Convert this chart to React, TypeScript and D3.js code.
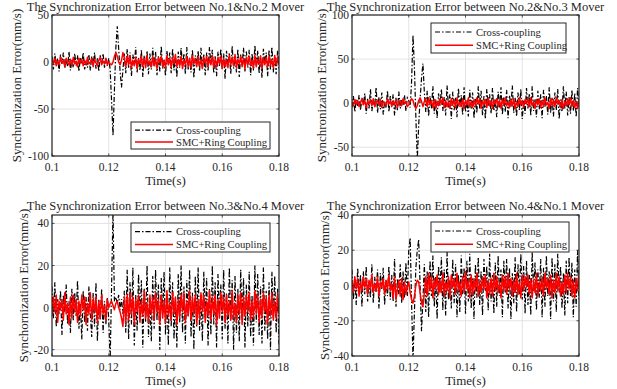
import React from "react";
import * as d3 from "d3";

const xTicks = [0.1, 0.12, 0.14, 0.16, 0.18];
const T0 = 0.1;
const DT = 0.0005;

// Panel 1: No.1 & No.2
const c12a = [6,-8,9,-3,4,-10,8,-2,10,-7,3,-5,11,-9,2,-6,9,-4,7,-10,5,-2,10,-8,1,-6,8,-9,6,-3,10,-7,4,-10,7,-2,9,-6,3,-4];
const c12b = [4,-8,-42,-78,-30,15,38,14,-10,-27,-8,9];
const c12c = [-12,14,-6,10,-15,8,-3,16,-11,5,-9,13,-16,7,-4,12,-13,9,-8,15,-5,11,-14,6,-10,17,-7,3,-15,12,-2,10,-12,14,-9,5,-16,11,-6,15,-4,9,-13,16,-8,4,-11,13,-17,7,-3,12,-10,15,-6,8,-14,10,-9,16,-2,13,-12,6,-15,11,-5,14,-8,9,-18,12,-4,10,-13,17,-7,5,-11,14,-16,8,-3,15,-10,11,-6,13,-14,9,-9,18,-5,12,-12,7,-17,14,-2,10,-15,13,-8,16,-11,6,-13,12,-7];
const r12a = [3,-2,4,-4,1,-3,5,-1,2,-5,4,0,-3,3,-4,5,-2,1,-5,4,-1,3,-4,2,-3,5,-2,0,4,-5,3,-1,-4,2,5,-3,1,-2,4,-3];
const r12b = [0,-2,-3,0,6,10,6,0,-3,2,10,4];
const r12c = [-5,6,-3,7,-6,2,-4,5,-7,3,-2,6,-5,4,-6,7,-3,1,-5,6,-4,3,-7,5,-1,6,-5,2,-6,7,-3,4,-6,5,-2,8,-5,3,-4,6,-7,2,-3,6,-5,4,-6,7,-2,3,-5,6,-4,2,-7,5,-1,6,-5,4,-3,7,-6,3,-4,5,-2,6,-7,4,-5,2,-6,7,-3,5,-4,8,-6,3,-2,6,-5,4,-7,5,-3,6,-4,2,-6,7,-5,3,-2,6,-7,4,-3,5,-5,6,-4,2,-6,7,-3,5,-2];

// Panel 2: No.2 & No.3
const c23a = [-5,8,-10,4,-3,9,-8,6,-2,11,-12,5,-6,16,-9,3,-4,18,-11,7,-7,12,-13,2,-5,14,-10,8,-3,10,-14,6,-8,13,-6,4,-2,9,-9,6];
const c23b = [3,-5,25,77,40,-15,-65,-25,5,28,45,12,-10];
const c23c = [14,-15,8,-6,19,-12,4,-17,11,-3,16,-9,7,-14,20,-5,10,-18,13,-8,6,-16,17,-4,9,-13,18,-10,3,-15,15,-7,12,-17,5,-11,19,-6,14,-14,8,-18,16,-3,10,-12,17,-9,4,-16,13,-5,18,-13,7,-10,15,-17,9,-4,20,-11,6,-15,12,-8,16,-18,3,-12,17,-6,11,-14,19,-9,5,-16,14,-7,10,-17,15,-4,8,-13,18,-11,6,-15,12,-8,16,-18,4,-10,19,-6,13,-14,7,-12,15,-9,11,-16,17,-5];
const r23a = [2,-3,4,-1,3,-4,1,5,-2,3,-5,2,-1,4,-3,5,-4,1,3,-2,4,-5,2,0,-3,5,-1,3,-4,2,-2,4,-5,1,3,-3,5,-1,2,-4];
const r23b = [-2,2,5,3,-3,-6,-3,3,6,2,-4,2,5];
const r23c = [-4,6,-2,3,-5,4,-6,2,-3,5,-1,6,-5,3,-4,2,-6,5,-2,4,-5,6,-3,1,-4,5,-6,3,-2,6,-4,2,-5,4,-3,6,-1,5,-6,3,-2,4,-5,6,-3,2,-6,4,-1,5,-4,3,-6,5,-2,6,-3,1,-5,4,-3,5,-6,2,-4,6,-2,3,-5,4,-1,5,-4,6,-3,2,-6,4,-2,5,-5,3,-4,6,-2,1,-6,5,-3,4,-4,6,-1,3,-5,4,-6,2,-3,5,-2,6,-4,3,-5,2,-6,4];

// Panel 3: No.3 & No.4
const c34a = [10,-5,12,-9,4,-3,8,-13,6,-2,11,-8,3,-12,9,-6,7,-4,13,-10,2,-15,8,-7,5,-11,10,-3,-14,7,-9,12,-16,4,-6,9,-12,3,-8,5];
const c34b = [-6,-25,10,46,3,5,2,6,-1,4,-3,8,-12,18];
const c34c = [-15,12,-8,19,-18,6,-11,16,-4,13,-19,9,-7,20,-14,3,-16,15,-10,18,-6,11,-20,14,-3,17,-13,8,-18,19,-9,12,-15,5,-19,16,-7,20,-12,10,-17,13,-4,18,-14,7,-20,15,-9,19,-11,6,-16,17,-5,14,-18,9,-13,20,-8,12,-19,16,-3,11,-15,18,-10,7,-17,19,-6,13,-20,15,-12,9,-16,18,-4,14,-19,11,-9,17,-14,6,-18,20,-7,16,-13,10,-17,19,-11,8,-15,12,-20,17,-5,15,-12,9,-18];
const r34a = [-4,5,-2,6,-7,3,-1,4,-6,7,-3,2,-8,5,-5,6,-2,4,-7,3,-4,6,-1,5,-8,2,-3,7,-6,4,-2,5,-7,3,-5,6,-3,1,-6,4];
const r34b = [0,2,3,1,-1,2,3,0,-2,-5,-9,5,-7,6];
const r34c = [-6,7,-3,5,-8,4,-2,6,-7,3,-4,8,-5,2,-7,6,-3,5,-6,7,-2,4,-8,6,-5,3,-7,8,-4,2,-6,7,-3,5,-8,4,-5,6,-2,7,-7,3,-4,8,-6,5,-3,6,-8,4,-5,7,-2,6,-7,3,-4,8,-6,5,-3,6,-8,4,-5,7,-2,5,-7,6,-4,3,-6,8,-5,2,-7,6,-3,7,-8,5,-4,6,-2,7,-6,3,-5,8,-3,6,-7,4,-5,7,-2,5,-8,6,-4,7,-6,3,-5,6,-3];

// Panel 4: No.4 & No.1
const c41a = [9,-8,4,-11,10,-3,6,-12,8,-5,11,-9,2,-7,12,-10,5,-4,9,-13,7,-2,10,-11,3,-6,11,-8,6,-9,15,-12,4,-5,12,-10,8,-7,13,-6];
const c41b = [20,27,-10,-42,-15,10,20,26,0,-26,-8,12];
const c41c = [-15,8,-18,14,-6,17,-12,5,-19,11,-4,16,-14,9,-17,19,-8,3,-13,15,-10,12,-18,6,-15,17,-5,10,-16,14,-9,18,-13,4,-19,12,-7,16,-11,8,-17,15,-3,11,-14,18,-9,6,-16,13,-12,17,-6,9,-18,14,-4,15,-13,10,-19,7,-10,16,-15,12,-5,18,-8,11,-16,14,-11,6,-17,19,-3,13,-14,9,-7,15,-18,10,-12,17,-6,8,-19,16,-9,12,-15,18,-4,11,-13,7,-17,14,-10,16,-6,13,-18,9,-12,20,-8];
const r41a = [3,-4,5,-2,4,-6,2,-3,5,-1,4,-5,3,-2,6,-4,1,-3,5,-6,2,-1,4,-5,3,-2,6,-3,1,-7,5,-8,-2,3,-6,4,-8,2,-5,-1];
const r41b = [2,-4,-8,-10,-6,0,3,2,-4,-10,-12,-4,5];
const r41c = [-6,7,-3,5,-7,4,-2,6,-5,3,-4,7,-6,2,-3,5,-7,6,-1,4,-5,7,-3,2,-6,5,-4,8,-2,3,-7,6,-5,4,-3,7,-6,2,-4,5,-2,6,-7,3,-5,4,-6,7,-3,5,-4,2,-7,6,-3,5,-5,7,-2,4,-6,3,-4,7,-5,2,-7,6,-3,5,-1,6,-5,4,-7,3,-4,7,-6,2,-3,5,-6,7,-2,4,-5,6,-7,3,-4,7,-3,5,-6,2,-5,6,-4,7,-2,5,-6,3,-7,4,-3,6];

const legendLabels = ["Cross-coupling", "SMC+Ring Coupling"];

type Panel = {
  id: string;
  title: string;
  ylabel: string;
  cross: number[];
  smc: number[];
  yDomain: [number, number];
  yTicks: number[];
  left: number; right: number; top: number; bottom: number;
  ylabelX: number;
  titleY: number;
  legend: { x: number; y: number; w: number; h: number };
};

const panels: Panel[] = [
  {
    id: "p1",
    title: "The Synchronization Error between No.1&No.2 Mover",
    ylabel: "Synchronization Error(mm/s)",
    cross: [...c12a, ...c12b, ...c12c],
    smc: [...r12a, ...r12b, ...r12c],
    yDomain: [-100, 50], yTicks: [-100, -50, 0, 50],
    left: 52, right: 279, top: 15, bottom: 156,
    ylabelX: 21, titleY: 11,
    legend: { x: 131, y: 122, w: 139, h: 27 },
  },
  {
    id: "p2",
    title: "The Synchronization Error between No.2&No.3 Mover",
    ylabel: "Synchronization Error(mm/s)",
    cross: [...c23a, ...c23b, ...c23c],
    smc: [...r23a, ...r23b, ...r23c],
    yDomain: [-60, 100], yTicks: [-50, 0, 50, 100],
    left: 352, right: 579, top: 15, bottom: 156,
    ylabelX: 326, titleY: 11,
    legend: { x: 431, y: 23, w: 135, h: 30 },
  },
  {
    id: "p3",
    title: "The Synchronization Error between No.3&No.4 Mover",
    ylabel: "Synchornization Error(mm/s)",
    cross: [...c34a, ...c34b, ...c34c],
    smc: [...r34a, ...r34b, ...r34c],
    yDomain: [-23, 44], yTicks: [-20, 0, 20, 40],
    left: 52, right: 279, top: 215, bottom: 356,
    ylabelX: 28, titleY: 210,
    legend: { x: 131, y: 223, w: 139, h: 29 },
  },
  {
    id: "p4",
    title: "The Synchronization Error between No.4&No.1 Mover",
    ylabel: "Synchonization Error(mm/s)",
    cross: [...c41a, ...c41b, ...c41c],
    smc: [...r41a, ...r41b, ...r41c],
    yDomain: [-40, 40], yTicks: [-40, -20, 0, 20, 40],
    left: 352, right: 579, top: 215, bottom: 356,
    ylabelX: 329, titleY: 210,
    legend: { x: 431, y: 222, w: 138, h: 30 },
  },
];

const FONT = "'Liberation Serif', 'Times New Roman', serif";
const TXT = "#262626";

function PanelView({ p }: { p: Panel }) {
  const x = d3.scaleLinear().domain([0.1, 0.18]).range([p.left, p.right]);
  const y = d3.scaleLinear().domain(p.yDomain).range([p.bottom, p.top]);
  const line = d3
    .line<number>()
    .x((_, i) => x(T0 + i * DT))
    .y((v) => y(v));
  const cx = (p.left + p.right) / 2;
  const cy = (p.top + p.bottom) / 2;
  const L = p.legend;
  const row1 = L.y + L.h * 0.3;
  const row2 = L.y + L.h * 0.74;
  return (
    <g>
      <defs>
        <clipPath id={`clip-${p.id}`}>
          <rect x={p.left} y={p.top} width={p.right - p.left} height={p.bottom - p.top} />
        </clipPath>
      </defs>
      <rect x={p.left} y={p.top} width={p.right - p.left} height={p.bottom - p.top} fill="#fff" />
      {xTicks.map((t) => (
        <line key={`gx${t}`} x1={x(t)} x2={x(t)} y1={p.top} y2={p.bottom} stroke="#dcdcdc" strokeWidth={0.8} />
      ))}
      {p.yTicks.map((t) => (
        <line key={`gy${t}`} x1={p.left} x2={p.right} y1={y(t)} y2={y(t)} stroke="#dcdcdc" strokeWidth={0.8} />
      ))}
      <g clipPath={`url(#clip-${p.id})`}>
        <path d={line(p.cross) || ""} fill="none" stroke="#000" strokeWidth={1.2} strokeDasharray="5,2,1.5,2" />
        <path d={line(p.smc) || ""} fill="none" stroke="#ff0000" strokeWidth={1.5} strokeLinejoin="round" />
      </g>
      {/* ticks */}
      {xTicks.map((t) => (
        <g key={`tx${t}`}>
          <line x1={x(t)} x2={x(t)} y1={p.bottom} y2={p.bottom - 2.5} stroke={TXT} strokeWidth={0.8} />
          <line x1={x(t)} x2={x(t)} y1={p.top} y2={p.top + 2.5} stroke={TXT} strokeWidth={0.8} />
          <text x={x(t)} y={p.bottom + 15} textAnchor="middle" fontSize={11.5} fontFamily={FONT} fill={TXT}>
            {d3.format("~g")(t)}
          </text>
        </g>
      ))}
      {p.yTicks.map((t) => (
        <g key={`ty${t}`}>
          <line x1={p.left} x2={p.left + 2.5} y1={y(t)} y2={y(t)} stroke={TXT} strokeWidth={0.8} />
          <line x1={p.right} x2={p.right - 2.5} y1={y(t)} y2={y(t)} stroke={TXT} strokeWidth={0.8} />
          <text x={p.left - 3} y={y(t)} dy="0.35em" textAnchor="end" fontSize={11.5} fontFamily={FONT} fill={TXT}>
            {t}
          </text>
        </g>
      ))}
      <rect x={p.left} y={p.top} width={p.right - p.left} height={p.bottom - p.top} fill="none" stroke={TXT} strokeWidth={1.2} />
      {/* legend */}
      <rect x={L.x} y={L.y} width={L.w} height={L.h} fill="#fff" stroke={TXT} strokeWidth={1} />
      <line x1={L.x + 4} x2={L.x + 42} y1={row1} y2={row1} stroke="#000" strokeWidth={1.2} strokeDasharray="5,2,1.5,2" />
      <line x1={L.x + 4} x2={L.x + 42} y1={row2} y2={row2} stroke="#ff0000" strokeWidth={1.5} />
      <text x={L.x + 45} y={row1} dy="0.35em" fontSize={10.6} fontFamily={FONT} fill={TXT}>{legendLabels[0]}</text>
      <text x={L.x + 45} y={row2} dy="0.35em" fontSize={10.6} fontFamily={FONT} fill={TXT}>{legendLabels[1]}</text>
      {/* labels */}
      <text x={cx} y={p.titleY} textAnchor="middle" fontSize={12.5} fontFamily={FONT} fill={TXT}>{p.title}</text>
      <text x={cx} y={p.bottom + 29} textAnchor="middle" fontSize={13} fontFamily={FONT} fill={TXT}>Time(s)</text>
      <text transform={`translate(${p.ylabelX},${cy}) rotate(-90)`} textAnchor="middle" fontSize={13} fontFamily={FONT} fill={TXT}>
        {p.ylabel}
      </text>
    </g>
  );
}

export default function App() {
  return (
    <svg width={617} height={389} style={{ position: "absolute", left: 0, top: 0, background: "#fff" }}>
      <rect x={0} y={0} width={617} height={389} fill="#fff" />
      {panels.map((p) => (
        <PanelView key={p.id} p={p} />
      ))}
    </svg>
  );
}
